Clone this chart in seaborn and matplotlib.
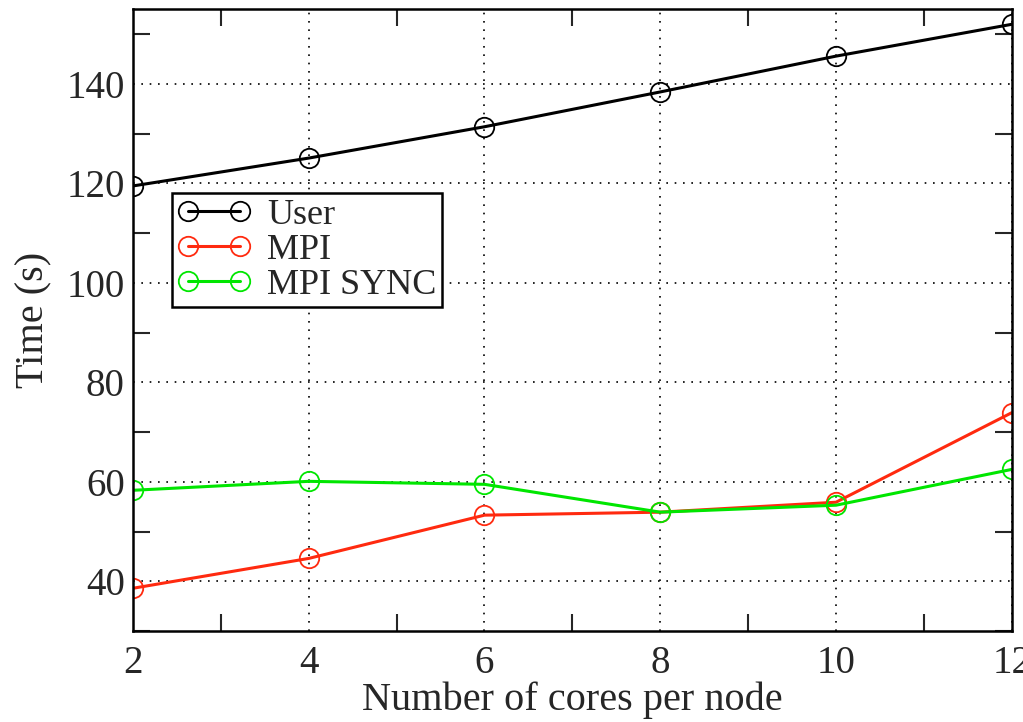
import matplotlib
matplotlib.use("Agg")
import matplotlib.pyplot as plt
import seaborn as sns
import pandas as pd
from matplotlib.ticker import MultipleLocator

cores = [2, 4, 6, 8, 10, 12]
user_time = [119.5, 125.1, 131.4, 138.4, 145.6, 152.0]
mpi_time = [38.6, 44.6, 53.3, 53.9, 55.9, 73.9]
mpi_sync_time = [58.3, 60.1, 59.5, 53.9, 55.3, 62.5]
series_names = ["User", "MPI", "MPI SYNC"]
colors = ["#000000", "#ff2a0f", "#00e600"]

df = pd.concat([
    pd.DataFrame({"cores": cores, "time": vals, "series": name})
    for name, vals in zip(series_names, [user_time, mpi_time, mpi_sync_time])
])

sns.set_style("ticks")
plt.rcParams["font.family"] = ["Liberation Serif", "DejaVu Serif"]

fig = plt.figure(figsize=(10.23, 7.22), dpi=100)
ax = fig.add_axes([0.130, 0.126, 0.859, 0.861])

sns.lineplot(data=df, x="cores", y="time", hue="series", hue_order=series_names,
             palette=colors, marker="o", markersize=14, markerfacecolor="none",
             markeredgewidth=1.3, linewidth=2.2, ax=ax, legend=True)
# hollow markers in series colour
for line, c in zip(ax.lines, colors):
    line.set_markeredgecolor(c)

ax.set_xlim(2, 12)
ax.set_ylim(30, 155)
ax.xaxis.set_major_locator(MultipleLocator(2))
ax.xaxis.set_minor_locator(MultipleLocator(1))
ax.yaxis.set_minor_locator(MultipleLocator(10))
ax.set_yticks([40, 60, 80, 100, 120, 140])
ax.grid(True, which="major", color="black", linestyle=(0, (1, 4)), linewidth=1.2)
ax.tick_params(which="both", direction="in", top=True, right=True, width=1.5,
               labelsize=28)
ax.tick_params(axis="y", pad=6)
ax.tick_params(axis="x", pad=10)
ax.tick_params(which="major", length=0)
ax.tick_params(which="minor", length=12)
for s in ax.spines.values():
    s.set_linewidth(1.8)
    s.set_color("black")

ax.set_xlabel("Number of cores per node", fontsize=29, labelpad=0)
ax.set_ylabel("Time (s)", fontsize=29, labelpad=10)

handles, labels = ax.get_legend_handles_labels()
for h, c in zip(handles, colors):
    h.set_markerfacecolor("none")
    h.set_markeredgecolor(c)
leg = ax.legend(handles, labels, loc="lower left", bbox_to_anchor=(0.044, 0.521),
                fontsize=26, frameon=True, fancybox=False, edgecolor="black",
                handlelength=2.05, numpoints=2, borderpad=0.15, labelspacing=0.05,
                handletextpad=0.45, borderaxespad=0)
leg.get_frame().set_linewidth(1.8)
leg.get_frame().set_alpha(1)

fig.savefig("out.png", dpi=100)
